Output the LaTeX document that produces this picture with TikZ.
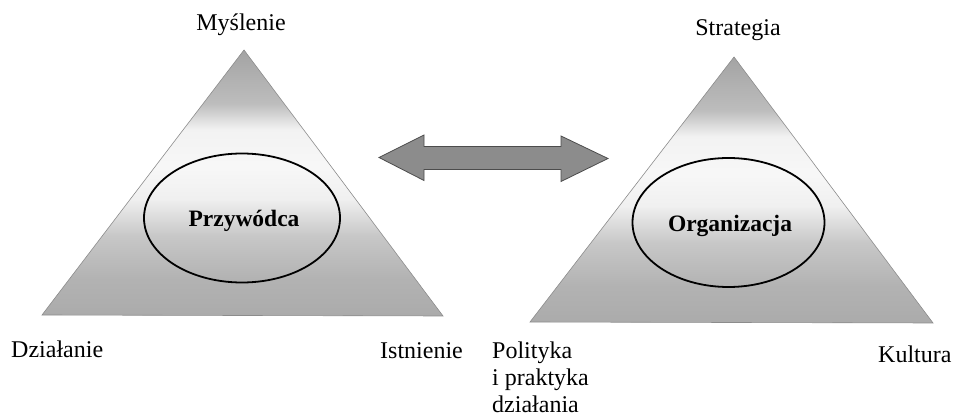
\documentclass[tikz,border=0pt]{standalone}
\usepackage{fontspec}
\setmainfont{Liberation Serif}
\pgfdeclareverticalshading{trishade}{100bp}{%
  color(0bp)=(black!33);
  color(25bp)=(black!33);
  color(32bp)=(black!30);
  color(40bp)=(black!22);
  color(47bp)=(black!6);
  color(53bp)=(black!3);
  color(60bp)=(black!5);
  color(65bp)=(black!26);
  color(75bp)=(black!36);
  color(100bp)=(black!36)}
\tikzset{
  tri/.style={draw=black!45, line width=0.6pt, shading=trishade},
  oval/.style={draw=black, line width=1.8pt},
  lbl/.style={font=\fontsize{24}{27}\selectfont, inner sep=0pt},
  inlbl/.style={font=\fontsize{23.5}{27}\selectfont\bfseries, inner sep=0pt},
  dblarrow/.style={draw=black!70, line width=0.8pt, fill=black!45, line join=miter}
}
\begin{document}
\begin{tikzpicture}[x=1pt,y=-1pt]
\useasboundingbox (0,0) rectangle (955,419);
% left triangle
\coordinate (LA) at (244,50);
\coordinate (LL) at (42,315);
\coordinate (LR) at (443,316);
\path[tri] (LA) -- (LL) -- (LR) -- cycle;
\draw[oval] (242,218) ellipse [x radius=98, y radius=64.5];
% right triangle
\coordinate (RA) at (734,57);
\coordinate (RL) at (530,322);
\coordinate (RR) at (933,323);
\path[tri] (RA) -- (RL) -- (RR) -- cycle;
\draw[oval] (728.5,222.5) ellipse [x radius=96, y radius=64.5];
% double arrow
\coordinate (AL) at (379,157.5);
\coordinate (AR) at (608,158.5);
\draw[dblarrow] (AL) -- (424,135) -- (424,146.5) -- (561,146.5) -- (561,136)
  -- (AR) -- (561,181.5) -- (561,169.5) -- (424,169.5) -- (424,180.5) -- cycle;
% labels
\node[lbl, anchor=base] (mys) at (241,31) {Myślenie};
\node[lbl, anchor=base west] (dzi) at (11,357) {Działanie};
\node[lbl, anchor=base west] (ist) at (380,358) {Istnienie};
\node[inlbl, anchor=base] (prz) at (244,227) {Przywódca};
\node[lbl, anchor=base] (str) at (738,36) {Strategia};
\node[lbl, anchor=base west, align=left] (pol) at (492,412) {Polityka\\i praktyka\\działania};
\node[lbl, anchor=base west] (kul) at (878,362) {Kultura};
\node[inlbl, anchor=base] (org) at (730,232) {Organizacja};
\end{tikzpicture}
\end{document}
